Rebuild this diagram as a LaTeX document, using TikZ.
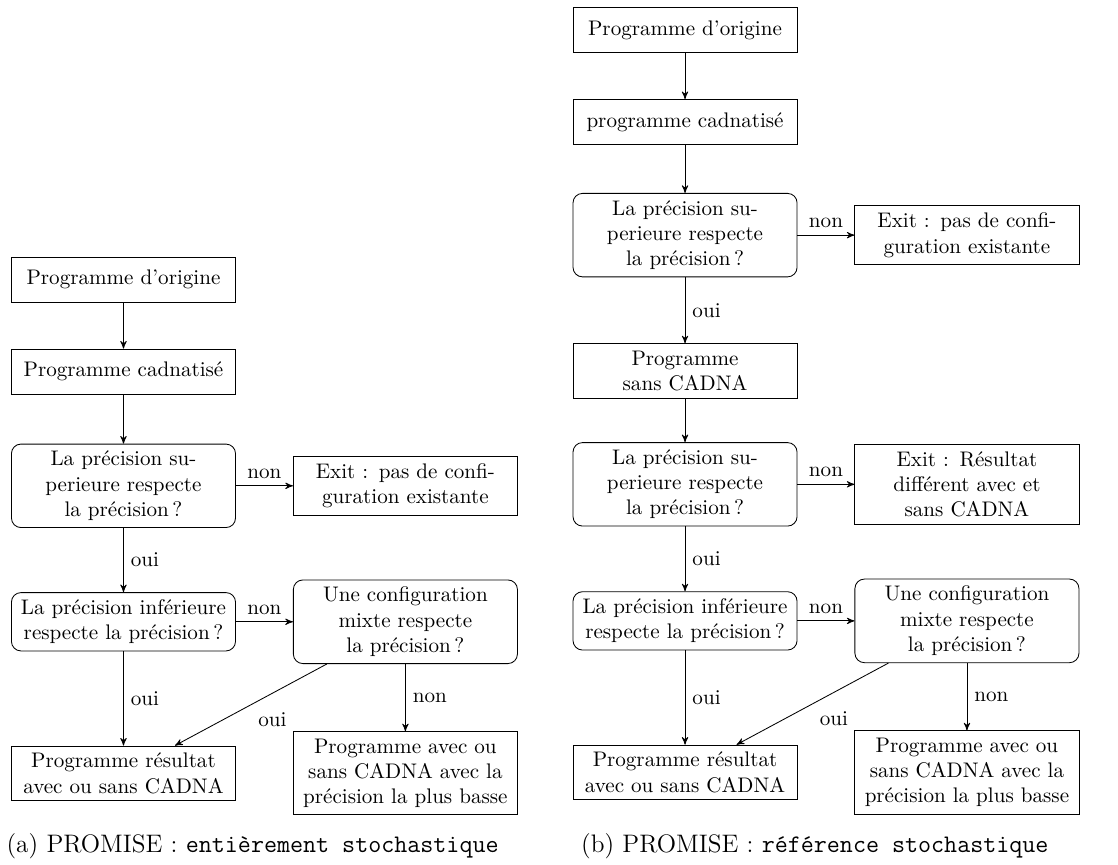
\documentclass[tikz,border=0pt]{standalone}
\usepackage{tikz}
\usetikzlibrary{shapes,arrows,positioning}
\tikzset{
  process/.style={
    shape=rectangle,
    draw,
    text width=3.5cm,
    align=center,
    minimum height=0.75cm
  },
  question/.style={
    process,
    rounded corners=4.5pt
  },
  flow/.style={
    ->,
    >=stealth'
  },
  subcaption/.style={
    font=\large,
    anchor=base,
    inner sep=0pt
  }
}

\begin{document}
\begin{tikzpicture}
    \useasboundingbox (0,0) rectangle (18.633,-14.4);

    % (a) entierement stochastique
    \node [process] (aorig) at (2.058,-4.658) {Programme d’origine};
    \node [process, below=0.77cm of aorig] (acad) {Programme cadnatisé};
    \node [question, below=0.82cm of acad] (asup) {La précision su-\\perieure respecte\\la précision\,?};
    \node [process, right=0.95cm of asup] (aexit) {Exit : pas de confi-\\guration existante};
    \node [question, below=1.07cm of asup] (ainf) {La précision inférieure\\respecte la précision\,?};
    \node [question, right=0.95cm of ainf] (amixte) {Une configuration\\mixte respecte\\la précision\,?};
    \node [process, below=1.57cm of ainf] (ares) {Programme résultat\\avec ou sans CADNA};
    \node [process, right=0.95cm of ares] (abasse) {Programme avec ou\\sans CADNA avec la\\précision la plus basse};

    \draw [flow] (aorig) -- (acad);
    \draw [flow] (acad) -- (asup);
    \draw [flow] (asup) -- node [above] {non} (aexit);
    \draw [flow] (asup) -- node [right] {oui} (ainf);
    \draw [flow] (ainf) -- node [above] {non} (amixte);
    \draw [flow] (ainf) -- node [right] {oui} (ares);
    \draw [flow] (amixte) -- node [right] {non} (abasse);
    \draw [flow] (amixte) -- node [below right] {oui} (ares);

    \node [subcaption] (acap) at (4.21,-14.2) {(a) PROMISE : \texttt{entièrement stochastique}};

    % (b) reference stochastique
    \node [process] (borig) at (11.417,-0.5) {Programme d’origine};
    \node [process, below=0.77cm of borig] (bcad) {programme cadnatisé};
    \node [question, below=0.8cm of bcad] (bsup) {La précision su-\\perieure respecte\\la précision\,?};
    \node [process, right=0.95cm of bsup] (bexit) {Exit : pas de confi-\\guration existante};
    \node [process, below=1.1cm of bsup] (bsans) {Programme\\sans CADNA};
    \node [question, below=0.73cm of bsans] (bsupb) {La précision su-\\perieure respecte\\la précision\,?};
    \node [process, right=0.95cm of bsupb] (bexitb) {Exit : Résultat\\différent avec et\\sans CADNA};
    \node [question, below=1.08cm of bsupb] (binf) {La précision inférieure\\respecte la précision\,?};
    \node [question, right=0.95cm of binf] (bmixte) {Une configuration\\mixte respecte\\la précision\,?};
    \node [process, below=1.57cm of binf] (bres) {Programme résultat\\avec ou sans CADNA};
    \node [process, right=0.95cm of bres] (bbasse) {Programme avec ou\\sans CADNA avec la\\précision la plus basse};

    \draw [flow] (borig) -- (bcad);
    \draw [flow] (bcad) -- (bsup);
    \draw [flow] (bsup) -- node [above] {non} (bexit);
    \draw [flow] (bsup) -- node [right] {oui} (bsans);
    \draw [flow] (bsans) -- (bsupb);
    \draw [flow] (bsupb) -- node [above] {non} (bexitb);
    \draw [flow] (bsupb) -- node [right] {oui} (binf);
    \draw [flow] (binf) -- node [above] {non} (bmixte);
    \draw [flow] (binf) -- node [right] {oui} (bres);
    \draw [flow] (bmixte) -- node [right] {non} (bbasse);
    \draw [flow] (bmixte) -- node [below right] {oui} (bres);

    \node [subcaption] (bcap) at (13.58,-14.2) {(b) PROMISE : \texttt{référence stochastique}};
\end{tikzpicture}
\end{document}
